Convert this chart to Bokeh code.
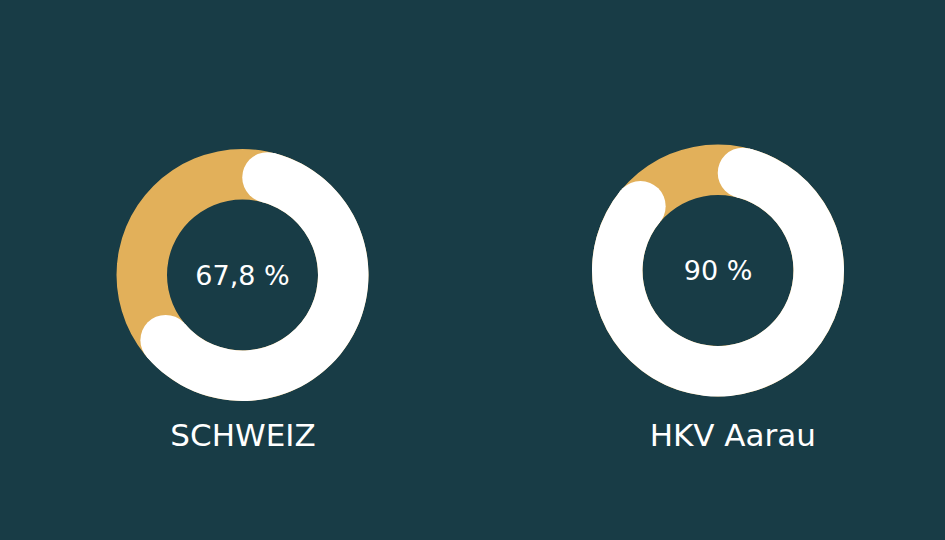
import math
from bokeh.plotting import figure
from bokeh.models import Range1d, GlobalInlineStyleSheet
from bokeh.core.properties import value
from bokeh.embed import file_html
from bokeh.resources import INLINE

# ---- data ----
categories = ["SCHWEIZ", "HKV Aarau"]
percent_values = [67.8, 90.0]
center_labels = ["67,8 %", "90 %"]

BG = "#183c46"
GOLD = "#e2b05a"
WHITE = "#ffffff"
FONT = "DejaVu Sans"

# layout (page pixel coords -> data: x = X, y = 540 - Y)
centers_x = [242.0, 717.5]
centers_y = [540 - 274.5, 540 - 270.0]
label_x = [242.5, 732.3]
label_y = [540 - 445.0 + 11.0] * 2
value_y = [540 - 285.0 + 10, 540 - 280.0 + 10]

R_OUT = 126.0
R_IN = 75.5
R_MID = (R_OUT + R_IN) / 2
HALF = (R_OUT - R_IN) / 2
CAP_DEG = math.degrees(HALF / R_MID)

p = figure(width=929, height=524, x_range=Range1d(0, 929), y_range=Range1d(16, 540),
           x_axis_type=None, y_axis_type=None, toolbar_location=None,
           output_backend="svg", min_border=0, background_fill_color=BG,
           border_fill_color=BG, outline_line_color=None)
p.grid.visible = False
p.stylesheets = [GlobalInlineStyleSheet(css="html, body { background: %s; }" % BG)]

# gold full ring
p.annular_wedge(x=centers_x, y=centers_y, inner_radius=R_IN, outer_radius=R_OUT,
                start_angle=0, end_angle=2 * math.pi, fill_color=GOLD, line_color=None)

# white value arcs with rounded caps (clockwise from top)
starts, ends, cap_x, cap_y = [], [], [], []
for cx, cy, v in zip(centers_x, centers_y, percent_values):
    th_s = CAP_DEG
    th_e = v * 3.6 - CAP_DEG
    starts.append(math.radians(90 - th_e))
    ends.append(math.radians(90 - th_s))
    for th in (th_s, th_e):
        a = math.radians(90 - th)
        cap_x.append(cx + R_MID * math.cos(a))
        cap_y.append(cy + R_MID * math.sin(a))

p.annular_wedge(x=centers_x, y=centers_y, inner_radius=R_IN, outer_radius=R_OUT,
                start_angle=starts, end_angle=ends, fill_color=WHITE, line_color=None)
p.circle(x=cap_x, y=cap_y, radius=HALF, fill_color=WHITE, line_color=None)

# center values
p.text(x=centers_x, y=value_y, text=center_labels, text_color=WHITE,
       text_font=value(FONT), text_font_size="27px", text_align="center",
       text_baseline="alphabetic")

# category labels
p.text(x=label_x, y=label_y, text=categories, text_color=WHITE,
       text_font=value(FONT), text_font_size="31px", text_align="center",
       text_baseline="alphabetic")

open("out.html", "w").write(file_html(p, INLINE))
